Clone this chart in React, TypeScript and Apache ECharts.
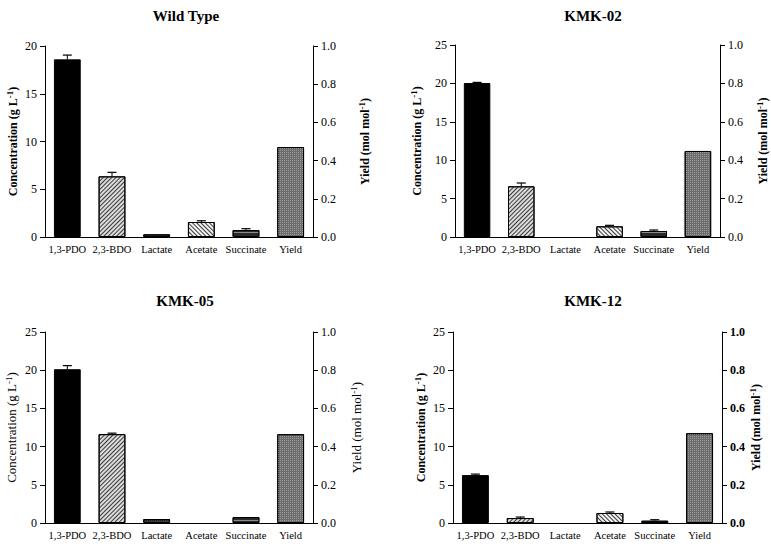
import React, { useEffect, useRef } from "react";
import * as echarts from "echarts";

const categories = ["1,3-PDO", "2,3-BDO", "Lactate", "Acetate", "Succinate", "Yield"];
const panelTitles = ["Wild Type", "KMK-02", "KMK-05", "KMK-12"];

// concentrations (g/L) for 1,3-PDO, 2,3-BDO, Lactate, Acetate, Succinate
const concWT = [18.6, 6.35, 0.28, 1.57, 0.73];
const concK02 = [20.05, 6.6, 0, 1.39, 0.78];
const concK05 = [20.13, 11.63, 0.52, 0, 0.78];
const concK12 = [6.27, 0.65, 0, 1.31, 0.3];

// error (upper) values
const errWT = [0.45, 0.42, 0, 0.13, 0.14];
const errK02 = [0.08, 0.43, 0, 0.13, 0.13];
const errK05 = [0.47, 0.13, 0, 0, 0];
const errK12 = [0.13, 0.13, 0, 0.13, 0.13];

// yield (mol/mol)
const yieldValues = [0.471, 0.448, 0.465, 0.47];

const leftMax = [20, 25, 25, 25];
const leftTicks = [5, 5, 5, 5];
const rightTicks = [0.2, 0.2, 0.2, 0.2];

const FONT = "Liberation Serif";

const patterns: any[] = [
  { color: "#000000" },
  { color: "#dcdcdc", decal: { symbol: "rect", color: "#3a3a3a", dashArrayX: [1, 0], dashArrayY: [1, 1.8], rotation: -Math.PI / 4 } },
  { color: "#3c3c3c", decal: { symbol: "rect", color: "#1a1a1a", dashArrayX: [1, 1], dashArrayY: [1, 1] } },
  { color: "#f2f2f2", decal: { symbol: "rect", color: "#3a3a3a", dashArrayX: [1, 0], dashArrayY: [1, 1.8], rotation: Math.PI / 4 } },
  { color: "#2a2a2a", decal: { symbol: "rect", color: "#8a8a8a", dashArrayX: [1, 0], dashArrayY: [1, 2.5], rotation: 0 } },
  { color: "#6c6c6c", decal: { symbol: "rect", color: "#9c9c9c", dashArrayX: [1, 1], dashArrayY: [1, 1] } },
];

const grids = [
  { left: 45, top: 46, width: 268, height: 191 },
  { left: 455, top: 45, width: 267, height: 192 },
  { left: 45, top: 332, width: 268, height: 191 },
  { left: 453, top: 332, width: 269, height: 191 },
];
const titlePos = [
  [181, 3],
  [588, 3],
  [180, 288],
  [588, 288],
];
const leftNameGap = [25, 31, 26, 25];
const rightNameGap = [44, 35, 36, 25];
const nameBold = [true, true, false, true];
const rightTickBold = [false, false, false, true];

export default function App() {
  const ref = useRef<HTMLDivElement>(null);
  useEffect(() => {
    if (!ref.current) return;
    const chart = echarts.init(ref.current, undefined, { renderer: "svg" });
    const concs = [concWT, concK02, concK05, concK12];
    const errs = [errWT, errK02, errK05, errK12];

    const title: any[] = [];
    const grid: any[] = [];
    const xAxis: any[] = [];
    const yAxis: any[] = [];
    const series: any[] = [];

    for (let p = 0; p < 4; p++) {
      title.push({
        text: panelTitles[p],
        left: titlePos[p][0],
        top: titlePos[p][1],
        textAlign: "center",
        textStyle: { fontFamily: FONT, fontSize: 15, fontWeight: "bold", color: "#000" },
      });
      grid.push({ ...grids[p], containLabel: false });
      xAxis.push({
        type: "category",
        gridIndex: p,
        data: categories,
        axisLine: { lineStyle: { color: "#000", width: 1 } },
        axisTick: { alignWithLabel: true, length: 4, lineStyle: { color: "#000" } },
        axisLabel: { interval: 0, color: "#000", fontFamily: FONT, fontSize: 10.5, margin: 7 },
      });
      const nameWeight = nameBold[p] ? "bold" : "normal";
      const nameSize = nameBold[p] ? 12 : 13;
      const supStyle = { fontFamily: FONT, fontSize: 9, fontWeight: nameWeight, color: "#000", verticalAlign: "top", lineHeight: 9 };
      yAxis.push({
        type: "value",
        gridIndex: p,
        position: "left",
        min: 0,
        max: leftMax[p],
        interval: leftTicks[p],
        name: "Concentration (g L{sup|-1})",
        nameLocation: "middle",
        nameRotate: 90,
        nameGap: leftNameGap[p],
        nameTextStyle: {
          fontFamily: FONT,
          fontSize: nameSize,
          fontWeight: nameWeight,
          color: "#000",
          lineHeight: 15,
          rich: { sup: supStyle },
        },
        axisLine: { show: true, lineStyle: { color: "#000", width: 1 } },
        axisTick: { show: true, length: 5, lineStyle: { color: "#000" } },
        axisLabel: { color: "#000", fontFamily: FONT, fontSize: 12, margin: 8 },
        splitLine: { show: false },
      });
      yAxis.push({
        type: "value",
        gridIndex: p,
        position: "right",
        min: 0,
        max: 1,
        interval: rightTicks[p],
        name: "Yield (mol mol{sup|-1})",
        nameLocation: "middle",
        nameRotate: 90,
        nameGap: rightNameGap[p],
        nameTextStyle: {
          fontFamily: FONT,
          fontSize: nameSize,
          fontWeight: nameWeight,
          color: "#000",
          lineHeight: 15,
          rich: { sup: supStyle },
        },
        axisLine: { show: true, lineStyle: { color: "#000", width: 1 } },
        axisTick: { show: true, length: 5, lineStyle: { color: "#000" } },
        axisLabel: {
          color: "#000",
          fontFamily: FONT,
          fontSize: 12,
          margin: 8,
          fontWeight: rightTickBold[p] ? "bold" : "normal",
          formatter: (v: number) => v.toFixed(1),
        },
        splitLine: { show: false },
      });

      const conc = concs[p];
      const leftData: any[] = conc.map((v, i) =>
        v > 0
          ? {
              value: v,
              itemStyle: { color: patterns[i].color, decal: patterns[i].decal, borderColor: "#000", borderWidth: 1 },
            }
          : "-"
      );
      leftData.push("-");
      const rightData: any[] = ["-", "-", "-", "-", "-", {
        value: yieldValues[p],
        itemStyle: { color: patterns[5].color, decal: patterns[5].decal, borderColor: "#000", borderWidth: 1 },
      }];
      series.push({
        type: "bar",
        xAxisIndex: p,
        yAxisIndex: p * 2,
        data: leftData,
        barWidth: "60%",
        barGap: "-100%",
      });
      series.push({
        type: "bar",
        xAxisIndex: p,
        yAxisIndex: p * 2 + 1,
        data: rightData,
        barWidth: "60%",
        barGap: "-100%",
      });
      const errData: any[] = [];
      errs[p].forEach((e, i) => {
        if (e > 0) errData.push([i, conc[i], conc[i] + e]);
      });
      series.push({
        type: "custom",
        xAxisIndex: p,
        yAxisIndex: p * 2,
        data: errData,
        z: 5,
        renderItem: (params: any, api: any) => {
          const x = api.value(0);
          const lo = api.coord([x, api.value(1)]);
          const hi = api.coord([x, api.value(2)]);
          return {
            type: "group",
            children: [
              { type: "line", shape: { x1: lo[0], y1: lo[1], x2: hi[0], y2: hi[1] }, style: { stroke: "#000", lineWidth: 1 } },
              { type: "line", shape: { x1: hi[0] - 4.5, y1: hi[1], x2: hi[0] + 4.5, y2: hi[1] }, style: { stroke: "#000", lineWidth: 1.2 } },
            ],
          };
        },
      });
    }

    chart.setOption({
      animation: false,
      backgroundColor: "#ffffff",
      title,
      grid,
      xAxis,
      yAxis,
      series,
    });
    return () => chart.dispose();
  }, []);
  return (
    <div
      ref={ref}
      style={{ position: "fixed", left: 0, top: 0, width: 771, height: 551 }}
    />
  );
}
